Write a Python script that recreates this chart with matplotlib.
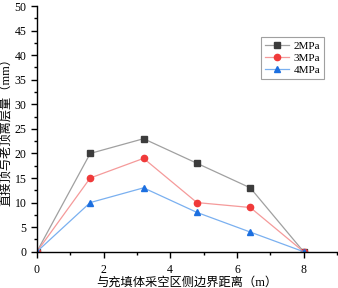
import numpy as np
import matplotlib
matplotlib.use("Agg")
import matplotlib.pyplot as plt
from matplotlib.ticker import MultipleLocator

# ---------------- data ----------------
dist = [0, 1.6, 3.2, 4.8, 6.4, 8]
s2 = [0, 20, 23, 18, 13, 0]
s3 = [0, 15, 19, 10, 9, 0]
s4 = [0, 10, 13, 8, 4, 0]
labels = ["2MPa", "3MPa", "4MPa"]

plt.rcParams["font.family"] = ["Liberation Serif", "Noto Sans CJK SC"]

fig = plt.figure(figsize=(3.38, 2.88), dpi=100)
ax = fig.add_axes([0.109, 0.126, 0.888, 0.853])

ax.plot(dist, s2, color="#a0a0a0", lw=0.9, marker="s", ms=4,
        mfc="#3c3c3c", mec="#3c3c3c", label=labels[0])
ax.plot(dist, s3, color="#f59a9a", lw=0.9, marker="o", ms=4.5,
        mfc="#f03a3a", mec="#f03a3a", label=labels[1])
ax.plot(dist, s4, color="#7ab0f0", lw=0.9, marker="^", ms=4.5,
        mfc="#1c6fe0", mec="#1c6fe0", label=labels[2])

ax.set_xlim(0, 9)
ax.set_ylim(0, 50)
ax.xaxis.set_major_locator(MultipleLocator(2))
ax.xaxis.set_minor_locator(MultipleLocator(1))
ax.yaxis.set_major_locator(MultipleLocator(5))
ax.yaxis.set_minor_locator(MultipleLocator(2.5))
ax.set_xticks([0, 2, 4, 6, 8])

for s in ["top", "right"]:
    ax.spines[s].set_visible(False)
for s in ["left", "bottom"]:
    ax.spines[s].set_linewidth(1.0)

ax.tick_params(which="major", direction="out", length=4, width=1, labelsize=8.5)
ax.tick_params(which="major", axis="x", pad=5)
ax.tick_params(which="minor", direction="out", length=2.5, width=1)

ax.set_xlabel("与充填体采空区侧边界距离（m）", fontsize=8.8, labelpad=0)
ax.set_ylabel("直接顶与老顶离层量（mm）", fontsize=8.8, labelpad=1)

leg = ax.legend(loc="upper right", bbox_to_anchor=(0.975, 0.895), fontsize=8,
                frameon=True, fancybox=False, edgecolor="#888888",
                handlelength=2.2, borderpad=0.35, labelspacing=0.2,
                handletextpad=0.4)
leg.get_frame().set_linewidth(0.8)

fig.savefig("out.png", dpi=100)
